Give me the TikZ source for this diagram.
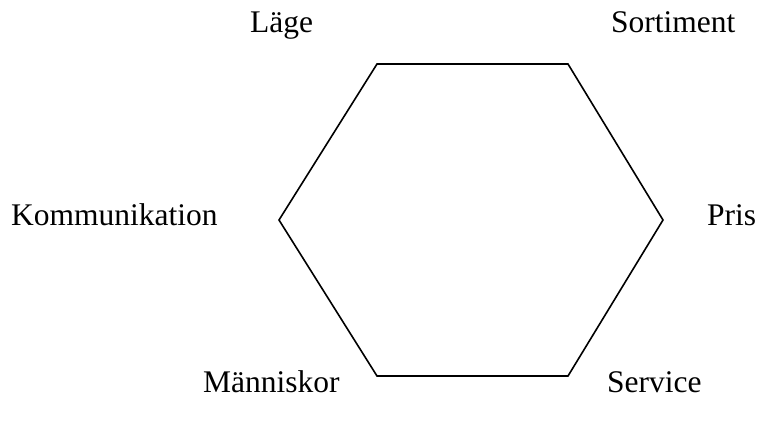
\documentclass[tikz,border=0pt]{standalone}
\usepackage{fontspec}
\setmainfont{Liberation Serif}
\begin{document}
\begin{tikzpicture}[x=1pt,y=-1pt,
  lbl/.style={anchor=base west,inner sep=0pt,font=\fontsize{31.5}{36}\selectfont},
  hex/.style={draw=black,line width=1.6pt,line join=miter}]
\useasboundingbox (0,0) rectangle (758,421);
\coordinate (v1) at (377,64);
\coordinate (v2) at (568,64);
\coordinate (v3) at (663,220);
\coordinate (v4) at (568,376);
\coordinate (v5) at (377,376);
\coordinate (v6) at (279,220);
\draw[hex] (v1) -- (v2) -- (v3) -- (v4) -- (v5) -- (v6) -- cycle;
\node[lbl] (lage) at (250,32) {Läge};
\node[lbl] (sort) at (611,32) {Sortiment};
\node[lbl] (komm) at (11,225) {Kommunikation};
\node[lbl] (pris) at (707,225) {Pris};
\node[lbl] (mann) at (203,392) {Människor};
\node[lbl] (serv) at (607,392) {Service};
\end{tikzpicture}
\end{document}
